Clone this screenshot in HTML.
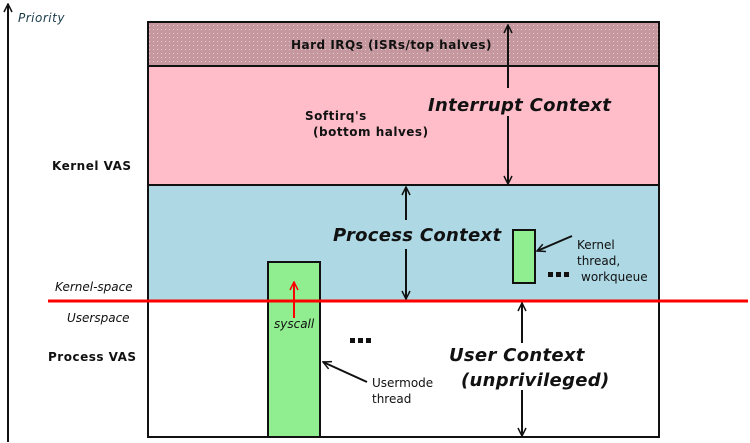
<!DOCTYPE html>
<html><head><meta charset="utf-8"><style>
html,body{margin:0;padding:0;background:#fff;width:750px;height:443px;overflow:hidden}
svg text{font-family:"DejaVu Sans","Liberation Sans",sans-serif}
</style></head><body>
<svg width="750" height="443" viewBox="0 0 750 443" xmlns="http://www.w3.org/2000/svg">
<defs>
<pattern id="dots" width="4" height="4" patternUnits="userSpaceOnUse">
<rect width="4" height="4" fill="#c4989e"/><rect x="1" y="1" width="1" height="1" fill="#e8c8cc"/>
</pattern>
<marker id="ah" markerWidth="10" markerHeight="10" refX="9" refY="5" orient="auto" markerUnits="userSpaceOnUse">
<path d="M1,1 L9,5 L1,9" fill="none" stroke="#111" stroke-width="1.5"/></marker>
<marker id="ahr" markerWidth="10" markerHeight="10" refX="9" refY="5" orient="auto" markerUnits="userSpaceOnUse">
<path d="M1,1 L9,5 L1,9" fill="none" stroke="#f00" stroke-width="1.5"/></marker>
</defs>
<line x1="8" y1="442" x2="8" y2="4" stroke="#111" stroke-width="2" marker-end="url(#ah)"/>
<text x="18" y="22" font-size="12" font-style="italic" fill="#1a3a4a" letter-spacing="0.5">Priority</text>
<rect x="148" y="22" width="511" height="44" fill="url(#dots)"/>
<rect x="148" y="66" width="511" height="119" fill="#ffbdc9"/>
<rect x="148" y="185" width="511" height="116" fill="#add8e4"/>
<rect x="148" y="301" width="511" height="136" fill="#fff"/>
<line x1="148" y1="66" x2="659" y2="66" stroke="#111" stroke-width="2"/>
<line x1="148" y1="185" x2="659" y2="185" stroke="#111" stroke-width="2"/>
<rect x="148" y="22" width="511" height="415" fill="none" stroke="#111" stroke-width="2"/>
<rect x="268" y="262" width="52" height="175" fill="#90ee90" stroke="#111" stroke-width="2"/>
<rect x="513" y="230" width="22" height="53" fill="#90ee90" stroke="#111" stroke-width="2"/>
<line x1="48" y1="301" x2="748" y2="301" stroke="#f00" stroke-width="3"/>
<g font-weight="bold" font-size="12" fill="#111" letter-spacing="0.5">
<text x="291" y="49">Hard IRQs (ISRs/top halves)</text>
<text x="305" y="120">Softirq's</text>
<text x="313" y="136">(bottom halves)</text>
<text x="52" y="170">Kernel VAS</text>
<text x="48" y="361">Process VAS</text>
</g>
<g font-size="12" font-style="italic" fill="#111">
<text x="55" y="291">Kernel-space</text>
<text x="67" y="322">Userspace</text>
<text x="274" y="328">syscall</text>
</g>
<g font-size="18" font-weight="bold" font-style="italic" fill="#111" letter-spacing="0.3">
<text x="428" y="111">Interrupt Context</text>
<text x="333" y="241">Process Context</text>
<text x="449" y="361">User Context</text>
<text x="461" y="386">(unprivileged)</text>
</g>
<g font-size="12" fill="#111">
<text x="577" y="249">Kernel</text>
<text x="577" y="265">thread,</text>
<text x="581" y="281">workqueue</text>
<text x="372" y="387">Usermode</text>
<text x="372" y="403">thread</text>
</g>
<g fill="#111">
<rect x="548" y="272" width="5" height="5"/><rect x="556" y="272" width="5" height="5"/><rect x="564" y="272" width="5" height="5"/>
<rect x="350" y="338" width="5" height="5"/><rect x="358" y="338" width="5" height="5"/><rect x="366" y="338" width="5" height="5"/>
</g>
<g stroke="#111" stroke-width="2" fill="none">
<line x1="508" y1="88" x2="508" y2="25" marker-end="url(#ah)"/>
<line x1="508" y1="116" x2="508" y2="184" marker-end="url(#ah)"/>
<line x1="406" y1="220" x2="406" y2="187" marker-end="url(#ah)"/>
<line x1="406" y1="249" x2="406" y2="299" marker-end="url(#ah)"/>
<line x1="522" y1="343" x2="522" y2="303" marker-end="url(#ah)"/>
<line x1="522" y1="390" x2="522" y2="436" marker-end="url(#ah)"/>
<line x1="572" y1="236" x2="537" y2="251" marker-end="url(#ah)"/>
<line x1="367" y1="382" x2="323" y2="362" marker-end="url(#ah)"/>
</g>
<line x1="294" y1="318" x2="294" y2="282" stroke="#f00" stroke-width="2" marker-end="url(#ahr)"/>
</svg>
</body></html>
